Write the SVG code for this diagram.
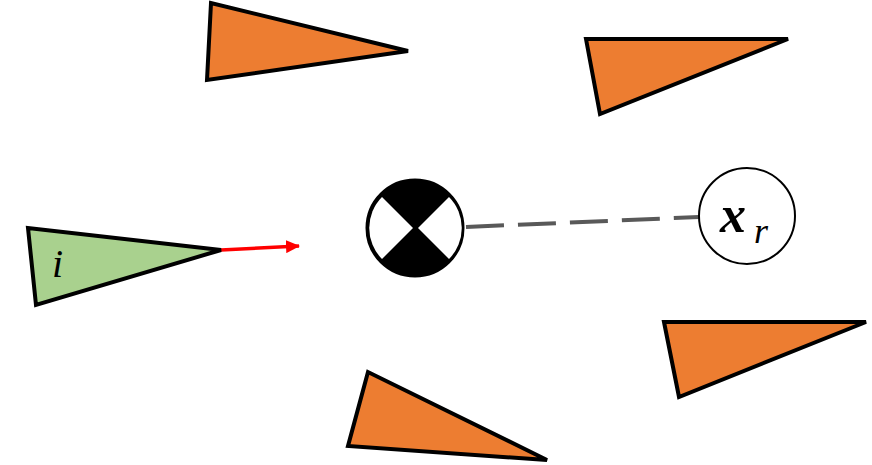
<svg xmlns="http://www.w3.org/2000/svg" width="872" height="465" viewBox="0 0 872 465">
<style>
.agent{fill:#ED7D31;stroke:#000;stroke-width:4;stroke-linejoin:miter}
.ego{fill:#A9D18E;stroke:#000;stroke-width:4;stroke-linejoin:miter}
.math{font-family:"Liberation Serif","DejaVu Serif",serif;font-style:italic;fill:#000}
</style>
<defs>
<marker id="redhead" markerWidth="14" markerHeight="13" refX="13" refY="6.5" orient="auto" markerUnits="userSpaceOnUse" viewBox="0 0 14 13">
<path d="M0,0 L14,6.5 L0,13 Z" fill="#FF0000"/>
</marker>
</defs>
<rect width="872" height="465" fill="#fff"/>
<g id="connectors">
<line x1="221" y1="250" x2="299" y2="246" stroke="#FF0000" stroke-width="3.5" marker-end="url(#redhead)"/>
<line x1="466" y1="227" x2="699" y2="217" stroke="#595959" stroke-width="4" stroke-dasharray="38,14"/>
</g>
<g id="agent1"><polygon class="agent" points="211,3 207,80 408,51"/></g>
<g id="agent2"><polygon class="agent" points="586,39 600,114 788,39"/></g>
<g id="agent3"><polygon class="agent" points="664,322 679,397 866,322"/></g>
<g id="agent4"><polygon class="agent" points="368,372 348,446 547,460"/></g>
<g id="ego">
<polygon class="ego" points="28,228 36,305 221,250"/>
<text class="math" x="52" y="277" font-size="40">i</text>
</g>
<g id="goal">
<circle cx="415" cy="228" r="47" fill="#000" stroke="#000" stroke-width="5"/>
<path d="M413,228 L382,197 A44,44 0 0 0 382,259 Z" fill="#fff"/>
<path d="M418,228 L449,197 A44,44 0 0 1 449,259 Z" fill="#fff"/>
</g>
<g id="xr">
<circle cx="747" cy="216" r="48" fill="#fff" stroke="#000" stroke-width="2"/>
<text class="math" x="720" y="232" font-size="52" font-weight="bold">x</text>
<text class="math" x="754" y="243" font-size="36">r</text>
</g>
</svg>
